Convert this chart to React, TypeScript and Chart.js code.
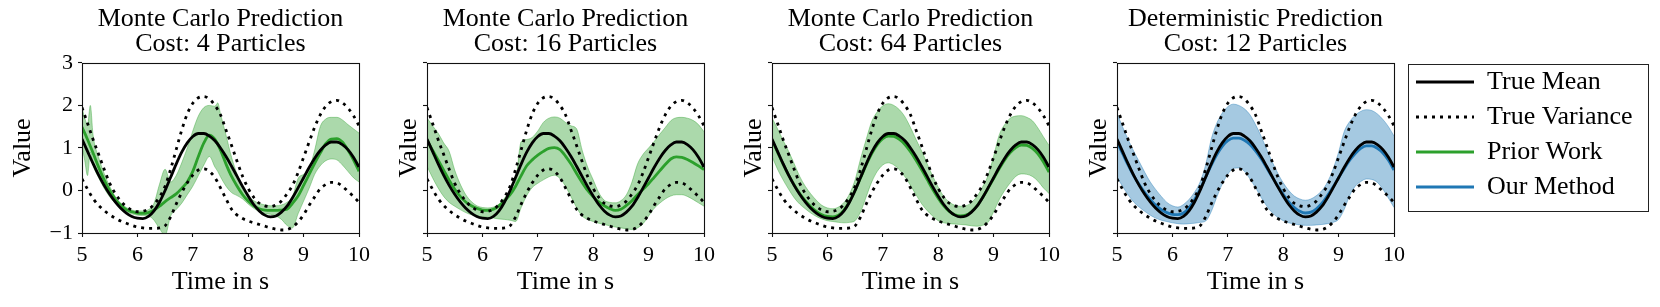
import React, { useEffect, useRef } from 'react';
import { Chart, registerables } from 'chart.js';

Chart.register(...registerables);

const FONT = '"Liberation Serif", "Times New Roman", serif';
const GREEN = '#2ca02c';
const BLUE = '#1f77b4';
const GREEN_FILL = 'rgba(44,160,44,0.4)';
const BLUE_FILL = 'rgba(31,119,180,0.4)';

// ---------- data ----------
const timeGrid = [
  5.0, 5.1, 5.2, 5.3, 5.4, 5.5, 5.6, 5.7, 5.8, 5.9,
  6.0, 6.1, 6.2, 6.3, 6.4, 6.5, 6.6, 6.7, 6.8, 6.9,
  7.0, 7.1, 7.2, 7.3, 7.4, 7.5, 7.6, 7.7, 7.8, 7.9,
  8.0, 8.1, 8.2, 8.3, 8.4, 8.5, 8.6, 8.7, 8.8, 8.9,
  9.0, 9.1, 9.2, 9.3, 9.4, 9.5, 9.6, 9.7, 9.8, 9.9,
  10.0,
];

const trueMean = [
  1.21, 0.92, 0.63, 0.36, 0.12, -0.09, -0.27, -0.42, -0.53, -0.61,
  -0.65, -0.66, -0.61, -0.48, -0.27, 0.0, 0.31, 0.62, 0.9, 1.12,
  1.27, 1.34, 1.34, 1.28, 1.17, 1.0, 0.8, 0.57, 0.33, 0.09,
  -0.13, -0.33, -0.48, -0.58, -0.62, -0.6, -0.51, -0.37, -0.17, 0.06,
  0.3, 0.54, 0.76, 0.94, 1.07, 1.14, 1.14, 1.08, 0.96, 0.78,
  0.55,
];
const trueUpper = [
  1.95, 1.58, 1.2, 0.85, 0.5, 0.17, -0.07, -0.25, -0.38, -0.46,
  -0.5, -0.49, -0.44, -0.33, -0.15, 0.1, 0.5, 0.96, 1.42, 1.8,
  2.05, 2.18, 2.21, 2.15, 2.0, 1.78, 1.42, 1.06, 0.68, 0.33,
  0.05, -0.16, -0.3, -0.36, -0.38, -0.34, -0.25, -0.08, 0.12, 0.42,
  0.78, 1.14, 1.49, 1.78, 1.98, 2.09, 2.12, 2.06, 1.94, 1.76,
  1.52,
];
const trueLower = [
  0.27, 0.03, -0.19, -0.35, -0.47, -0.57, -0.65, -0.72, -0.77, -0.82,
  -0.86, -0.88, -0.89, -0.89, -0.88, -0.83, -0.62, -0.32, -0.05, 0.18,
  0.36, 0.48, 0.51, 0.45, 0.3, 0.06, -0.2, -0.44, -0.58, -0.66,
  -0.72, -0.76, -0.8, -0.84, -0.88, -0.91, -0.93, -0.92, -0.86, -0.74,
  -0.57, -0.35, -0.15, 0.04, 0.14, 0.19, 0.18, 0.1, -0.02, -0.14,
  -0.28,
];

// Monte Carlo, 4 particles
const mc4Mean = [
  1.49, 1.2, 0.88, 0.55, 0.25, 0.0, -0.2, -0.35, -0.45, -0.5,
  -0.53, -0.54, -0.52, -0.46, -0.37, -0.26, -0.17, -0.08, 0.05, 0.2,
  0.45, 0.8, 1.12, 1.3, 1.2, 0.95, 0.62, 0.33, 0.1, -0.1,
  -0.25, -0.36, -0.43, -0.46, -0.47, -0.47, -0.46, -0.44, -0.3, -0.13,
  0.12, 0.38, 0.64, 0.88, 1.1, 1.21, 1.22, 1.14, 0.95, 0.72,
  0.45,
];
const mc4BandTime = [
  5.0, 5.05, 5.1, 5.15, 5.2, 5.3, 5.4, 5.5, 5.6, 5.7, 5.8, 5.9,
  6.0, 6.1, 6.2, 6.3, 6.4, 6.5, 6.6, 6.7, 6.8, 6.9,
  7.0, 7.1, 7.2, 7.3, 7.4, 7.45, 7.5, 7.6, 7.7, 7.8, 7.9,
  8.0, 8.1, 8.2, 8.3, 8.4, 8.5, 8.6, 8.7, 8.8, 8.9,
  9.0, 9.1, 9.2, 9.3, 9.4, 9.5, 9.6, 9.7, 9.8, 9.9,
  10.0,
];
const mc4Upper = [
  1.95, 1.7, 1.55, 2.0, 1.3, 0.78, 0.4, 0.1, -0.14, -0.3, -0.4, -0.46,
  -0.48, -0.48, -0.45, -0.3, 0.15, 0.5, 0.2, 0.35, 0.65, 1.0,
  1.4, 1.75, 1.95, 2.0, 1.98, 2.06, 1.8, 1.3, 0.78, 0.38, 0.08,
  -0.12, -0.24, -0.3, -0.34, -0.36, -0.36, -0.34, -0.28, -0.15, 0.28,
  0.38, 0.5, 0.95, 1.5, 1.68, 1.72, 1.72, 1.66, 1.55, 1.45,
  1.35,
];
const mc4Lower = [
  1.05, 0.7, 0.35, 0.9, 0.6, 0.3, 0.05, -0.15, -0.3, -0.42, -0.5, -0.55,
  -0.58, -0.59, -0.6, -0.7, -0.9, -1.05, -0.6, -0.45, -0.3, -0.1,
  0.1, 0.35, 0.6, 0.8, 0.55, 0.45, 0.32, 0.1, -0.05, -0.12, -0.2,
  -0.32, -0.42, -0.5, -0.54, -0.56, -0.6, -0.68, -0.82, -0.88, -0.55,
  -0.25, 0.05, 0.38, 0.58, 0.7, 0.74, 0.72, 0.6, 0.45, 0.3,
  0.2,
];

// Monte Carlo, 16 particles
const mc16Mean = [
  1.18, 0.95, 0.72, 0.48, 0.24, 0.03, -0.14, -0.27, -0.36, -0.42,
  -0.46, -0.47, -0.44, -0.36, -0.24, -0.1, 0.1, 0.35, 0.58, 0.72,
  0.83, 0.92, 0.99, 1.01, 0.96, 0.81, 0.62, 0.4, 0.19, 0.0,
  -0.15, -0.27, -0.36, -0.43, -0.47, -0.44, -0.35, -0.24, -0.1, 0.03,
  0.16, 0.31, 0.46, 0.61, 0.74, 0.79, 0.78, 0.73, 0.66, 0.58,
  0.49,
];
const mc16Upper = [
  1.71, 1.52, 1.35, 1.12, 0.92, 0.48, 0.15, -0.1, -0.26, -0.36,
  -0.4, -0.41, -0.39, -0.32, -0.18, 0.0, 0.2, 1.15, 1.2, 1.25,
  1.4, 1.6, 1.7, 1.73, 1.7, 1.6, 1.52, 1.45, 0.95, 0.55,
  0.25, -0.05, -0.23, -0.28, -0.29, -0.24, -0.1, 0.2, 0.62, 0.85,
  1.0, 1.15, 1.32, 1.48, 1.64, 1.71, 1.72, 1.7, 1.65, 1.55,
  1.38,
];
const mc16Lower = [
  0.57, 0.3, 0.06, -0.14, -0.28, -0.37, -0.45, -0.52, -0.57, -0.6,
  -0.62, -0.63, -0.65, -0.67, -0.68, -0.7, -0.73, -0.4, -0.12, 0.07,
  0.17, 0.25, 0.32, 0.36, 0.28, 0.1, -0.15, -0.4, -0.6, -0.68,
  -0.73, -0.77, -0.8, -0.83, -0.86, -0.88, -0.9, -0.92, -0.88, -0.78,
  -0.6, -0.42, -0.3, -0.2, -0.13, -0.1, -0.1, -0.14, -0.21, -0.29,
  -0.37,
];

// Monte Carlo, 64 particles
const mc64Mean = [
  1.18, 0.9, 0.62, 0.36, 0.13, -0.07, -0.24, -0.38, -0.49, -0.57,
  -0.61, -0.62, -0.58, -0.46, -0.26, 0.0, 0.3, 0.6, 0.87, 1.08,
  1.22, 1.28, 1.27, 1.2, 1.08, 0.91, 0.71, 0.49, 0.26, 0.03,
  -0.18, -0.36, -0.49, -0.57, -0.6, -0.58, -0.5, -0.36, -0.17, 0.05,
  0.28, 0.51, 0.72, 0.89, 1.01, 1.07, 1.06, 0.99, 0.86, 0.67,
  0.43,
];
const mc64Upper = [
  1.71, 1.45, 1.18, 0.92, 0.63, 0.33, 0.1, -0.08, -0.23, -0.35,
  -0.41, -0.43, -0.39, -0.28, -0.08, 0.25, 0.75, 1.2, 1.62, 1.85,
  1.99, 2.04, 2.0, 1.9, 1.73, 1.48, 1.2, 0.93, 0.63, 0.34,
  0.08, -0.14, -0.27, -0.35, -0.37, -0.36, -0.28, -0.14, 0.08, 0.35,
  0.8, 1.3, 1.55, 1.7, 1.75, 1.76, 1.72, 1.64, 1.47, 1.26,
  1.06,
];
const mc64Lower = [
  0.8, 0.5, 0.25, 0.03, -0.17, -0.32, -0.43, -0.53, -0.61, -0.67,
  -0.71, -0.73, -0.75, -0.76, -0.75, -0.71, -0.5, -0.15, 0.2, 0.45,
  0.6, 0.65, 0.6, 0.49, 0.32, 0.12, -0.1, -0.31, -0.47, -0.6,
  -0.71, -0.76, -0.78, -0.79, -0.8, -0.81, -0.83, -0.84, -0.82, -0.75,
  -0.5, -0.22, 0.0, 0.18, 0.33, 0.39, 0.38, 0.33, 0.22, 0.06,
  -0.07,
];

// Deterministic prediction (our method)
const detMean = [
  1.14, 0.87, 0.6, 0.35, 0.14, -0.05, -0.21, -0.35, -0.45, -0.52,
  -0.56, -0.57, -0.53, -0.41, -0.22, 0.03, 0.31, 0.59, 0.84, 1.04,
  1.17, 1.23, 1.23, 1.18, 1.08, 0.93, 0.75, 0.54, 0.32, 0.11,
  -0.09, -0.27, -0.4, -0.49, -0.53, -0.51, -0.43, -0.3, -0.12, 0.08,
  0.3, 0.51, 0.71, 0.87, 0.99, 1.05, 1.05, 0.99, 0.88, 0.71,
  0.48,
];
const detUpper = [
  1.81, 1.5, 1.2, 0.93, 0.68, 0.43, 0.2, 0.02, -0.14, -0.28,
  -0.36, -0.39, -0.33, -0.21, -0.04, 0.2, 0.6, 1.2, 1.58, 1.82,
  1.97, 2.03, 2.0, 1.92, 1.78, 1.55, 1.28, 0.97, 0.68, 0.41,
  0.18, 0.0, -0.13, -0.2, -0.23, -0.2, -0.12, 0.0, 0.2, 0.5,
  0.9, 1.38, 1.62, 1.77, 1.86, 1.9, 1.88, 1.8, 1.67, 1.5,
  1.28,
];
const detLower = [
  0.31, 0.1, -0.1, -0.27, -0.39, -0.49, -0.58, -0.65, -0.7, -0.73,
  -0.76, -0.78, -0.79, -0.78, -0.77, -0.75, -0.72, -0.5, -0.16, 0.15,
  0.38, 0.52, 0.53, 0.45, 0.27, 0.07, -0.16, -0.36, -0.52, -0.63,
  -0.71, -0.76, -0.79, -0.81, -0.82, -0.82, -0.81, -0.8, -0.78, -0.75,
  -0.68, -0.45, -0.12, 0.1, 0.21, 0.27, 0.26, 0.19, 0.03, -0.18,
  -0.4,
];

const xTicks = [5, 6, 7, 8, 9, 10];
const yTicks = [-1, 0, 1, 2, 3];

const panelTitles = [
  ['Monte Carlo Prediction', 'Cost: 4 Particles'],
  ['Monte Carlo Prediction', 'Cost: 16 Particles'],
  ['Monte Carlo Prediction', 'Cost: 64 Particles'],
  ['Deterministic Prediction', 'Cost: 12 Particles'],
];
const legendLabels = ['True Mean', 'True Variance', 'Prior Work', 'Our Method'];

// ---------- layout ----------
const AXIS_W = 82;
const PLOT_W = 277;
const RIGHT_PAD = 40;
const CANVAS_W = AXIS_W + PLOT_W + RIGHT_PAD;
const CANVAS_H = 307;
const PLOT_LEFTS = [82, 427, 772, 1117];
const TEXT_SIZE = 26;
const TICK_SIZE = 22;

type Panel = {
  title: string[];
  left: number;
  mean: number[];
  upper: number[];
  lower: number[];
  bandTime: number[];
  color: string;
  fill: string;
  showYLabels: boolean;
  yTitlePad: number;
};

const panels: Panel[] = [
  { title: panelTitles[0], left: PLOT_LEFTS[0] - AXIS_W, mean: mc4Mean, upper: mc4Upper, lower: mc4Lower, bandTime: mc4BandTime, color: GREEN, fill: GREEN_FILL, showYLabels: true, yTitlePad: 7.4 },
  { title: panelTitles[1], left: PLOT_LEFTS[1] - AXIS_W, mean: mc16Mean, upper: mc16Upper, lower: mc16Lower, bandTime: timeGrid, color: GREEN, fill: GREEN_FILL, showYLabels: false, yTitlePad: 48.4 },
  { title: panelTitles[2], left: PLOT_LEFTS[2] - AXIS_W, mean: mc64Mean, upper: mc64Upper, lower: mc64Lower, bandTime: timeGrid, color: GREEN, fill: GREEN_FILL, showYLabels: false, yTitlePad: 48.4 },
  { title: panelTitles[3], left: PLOT_LEFTS[3] - AXIS_W, mean: detMean, upper: detUpper, lower: detLower, bandTime: timeGrid, color: BLUE, fill: BLUE_FILL, showYLabels: false, yTitlePad: 48.4 },
];

function pts(xs: number[], ys: number[]) {
  return xs.map((x, i) => ({ x, y: ys[i] }));
}

function fmt(v: number) {
  return v < 0 ? '\u2212' + String(-v) : String(v);
}

const framePlugin = {
  id: 'frame',
  afterDatasetsDraw(chart: any) {
    const { ctx, chartArea } = chart;
    if (!chartArea) return;
    const { left, top, right, bottom } = chartArea;
    ctx.save();
    ctx.strokeStyle = '#111';
    ctx.lineWidth = 1.1;
    ctx.strokeRect(Math.round(left) + 0.5, Math.round(top) + 0.5, Math.round(right - left), Math.round(bottom - top));
    ctx.restore();
  },
};

const lineBase = { pointRadius: 0, pointHoverRadius: 0, cubicInterpolationMode: 'monotone', clip: 0, fill: false };

function buildConfig(p: Panel): any {
  // lower "order" is drawn on top: dotted > true mean > method line > band
  const datasets = [
    { ...lineBase, label: 'band-lower', data: pts(p.bandTime, p.lower), borderColor: p.fill, borderWidth: 1, order: 3 },
    { ...lineBase, label: 'band-upper', data: pts(p.bandTime, p.upper), borderColor: p.fill, backgroundColor: p.fill, borderWidth: 1, fill: '-1', order: 3 },
    { ...lineBase, label: 'method', data: pts(timeGrid, p.mean), borderColor: p.color, borderWidth: 2.8, order: 2 },
    { ...lineBase, label: 'True Mean', data: pts(timeGrid, trueMean), borderColor: '#000', borderWidth: 2.8, order: 1 },
    { ...lineBase, label: 'True Variance', data: pts(timeGrid, trueUpper), borderColor: '#000', borderWidth: 2.8, borderDash: [3, 5], borderCapStyle: 'butt', order: 0 },
    { ...lineBase, label: 'True Variance (lower)', data: pts(timeGrid, trueLower), borderColor: '#000', borderWidth: 2.8, borderDash: [3, 5], borderCapStyle: 'butt', order: 0 },
  ];
  const tickFont = { family: FONT, size: TICK_SIZE };
  const titleFont = { family: FONT, size: TEXT_SIZE };
  const grid = { display: true, drawOnChartArea: false, drawTicks: true, tickLength: 4, tickColor: '#111', tickWidth: 1.1 };
  return {
    type: 'line',
    data: { datasets },
    options: {
      responsive: false,
      animation: false,
      devicePixelRatio: 1,
      events: [],
      layout: { padding: { left: 0, right: RIGHT_PAD, top: 0, bottom: 0 } },
      plugins: {
        legend: { display: false },
        tooltip: { enabled: false },
        title: {
          display: true,
          text: p.title,
          color: '#000',
          fullSize: false,
          font: { family: FONT, size: TEXT_SIZE, weight: 'normal', lineHeight: 0.96 },
          padding: { top: 7, bottom: 6 },
        },
      },
      scales: {
        x: {
          type: 'linear',
          min: xTicks[0],
          max: xTicks[xTicks.length - 1],
          afterFit: (s: any) => { s.height = 74; },
          afterBuildTicks: (s: any) => { s.ticks = xTicks.map((v) => ({ value: v })); },
          ticks: { color: '#000', font: tickFont, padding: 5, maxRotation: 0, autoSkip: false, callback: (v: any) => fmt(Number(v)) },
          grid,
          border: { display: false },
          title: { display: true, text: 'Time in s', color: '#000', font: titleFont, padding: { top: 0, bottom: 9 } },
        },
        y: {
          type: 'linear',
          min: yTicks[0],
          max: yTicks[yTicks.length - 1],
          afterFit: (s: any) => { s.width = AXIS_W; },
          afterBuildTicks: (s: any) => { s.ticks = yTicks.map((v) => ({ value: v })); },
          ticks: { color: '#000', font: tickFont, padding: 5, autoSkip: false, callback: (v: any) => (p.showYLabels ? fmt(Number(v)) : '') },
          grid,
          border: { display: false },
          title: { display: true, text: 'Value', color: '#000', font: titleFont, padding: { top: p.yTitlePad, bottom: 0 } },
        },
      },
    },
    plugins: [framePlugin],
  };
}

function legendConfig(): any {
  const styles = [
    { color: '#000', dash: [] as number[] },
    { color: '#000', dash: [3, 5] },
    { color: GREEN, dash: [] as number[] },
    { color: BLUE, dash: [] as number[] },
  ];
  const items = legendLabels.map((text, i) => ({
    text,
    fillStyle: styles[i].color,
    strokeStyle: styles[i].color,
    fontColor: '#000',
    lineWidth: 2.8,
    lineDash: styles[i].dash,
    lineCap: 'butt',
    pointStyle: 'line',
    hidden: false,
    datasetIndex: i,
  }));
  return {
    type: 'line',
    data: { datasets: [] },
    options: {
      responsive: false,
      animation: false,
      devicePixelRatio: 1,
      events: [],
      layout: { padding: 0 },
      scales: { x: { display: false }, y: { display: false } },
      plugins: {
        tooltip: { enabled: false },
        title: { display: false },
        legend: {
          display: true,
          position: 'left',
          align: 'start',
          maxWidth: 245,
          labels: {
            usePointStyle: true,
            pointStyleWidth: 58,
            padding: 9,
            color: '#000',
            font: { family: FONT, size: TEXT_SIZE },
            generateLabels: () => items,
          },
        },
      },
    },
  };
}

export default function App() {
  const canvasRefs = useRef<(HTMLCanvasElement | null)[]>([]);
  const legendRef = useRef<HTMLCanvasElement | null>(null);

  useEffect(() => {
    document.body.style.margin = '0';
    const charts: Chart[] = [];
    panels.forEach((p, i) => {
      const c = canvasRefs.current[i];
      if (c) charts.push(new Chart(c, buildConfig(p)));
    });
    if (legendRef.current) charts.push(new Chart(legendRef.current, legendConfig()));
    return () => {
      charts.forEach((c) => c.destroy());
    };
  }, []);

  return (
    <div style={{ position: 'fixed', left: 0, top: 0, width: 1660, height: 307, background: '#fff', overflow: 'hidden' }}>
      {panels.map((p, i) => (
        <canvas
          key={i}
          ref={(el) => { canvasRefs.current[i] = el; }}
          width={CANVAS_W}
          height={CANVAS_H}
          style={{ position: 'absolute', left: p.left, top: 0, width: CANVAS_W, height: CANVAS_H }}
        />
      ))}
      <div style={{ position: 'absolute', left: 1408, top: 64, width: 241, height: 148, border: '1px solid #222', boxSizing: 'border-box' }} />
      <canvas
        ref={legendRef}
        width={245}
        height={160}
        style={{ position: 'absolute', left: 1407, top: 60, width: 245, height: 160 }}
      />
    </div>
  );
}
